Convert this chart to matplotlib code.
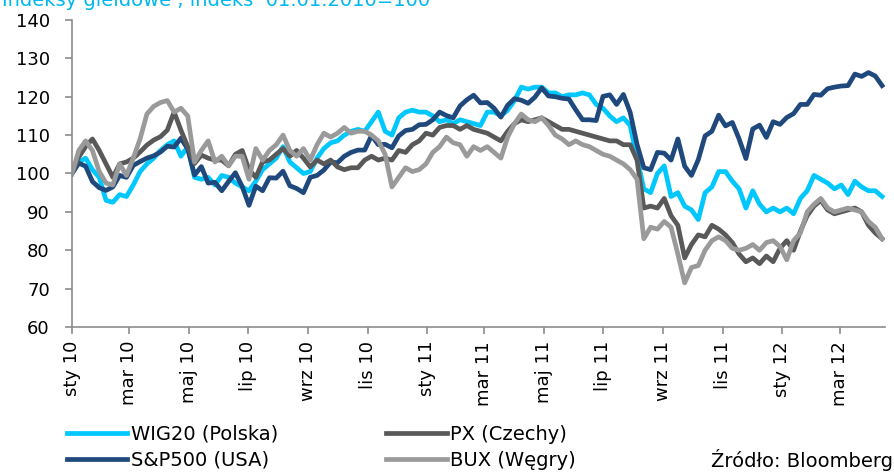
import pandas as pd
import matplotlib
matplotlib.use("Agg")
import matplotlib.pyplot as plt

# weekly (Friday) readings, index 01.01.2010 = 100
dates = pd.date_range("2010-01-01", periods=120, freq="7D")

wig20 = [100, 103, 104, 101, 99, 93, 92.5, 94.5, 94, 97,
         100.5, 102.5, 104, 106, 107.5, 108.5, 104.5, 107, 99, 98.5,
         99, 97, 99.5, 99, 97.5, 96.5, 95.5, 98, 101, 102.5,
         104, 107, 103, 101.5, 100, 100.5, 104, 106.5, 108, 108.5,
         110, 111, 111.5, 111, 113.5, 116, 111, 110, 114.5, 116,
         116.5, 116, 116, 115, 113.5, 114, 113, 114, 113.5, 113,
         112.5, 116, 116, 115, 116.5, 119, 122.5, 122, 122.5, 122.5,
         121, 121, 120, 120.5, 120.5, 121, 120.5, 118, 117, 115,
         113.5, 114.5, 112.5, 104, 96, 95, 100, 102, 94, 95,
         91.5, 90.5, 88, 95, 96.5, 100.5, 100.5, 98, 96, 91,
         95.5, 92, 90, 91, 90, 91, 89.5, 93.5, 95.5, 99.5,
         98.5, 97.5, 96, 97, 94.5, 98, 96.5, 95.5, 95.5, 94]

sp500 = [100.0, 102.7, 101.9, 97.9, 96.3, 95.6, 96.5, 99.5, 99.0, 102.1,
         103.1, 104.0, 104.6, 105.6, 107.1, 106.9, 109.2, 106.4, 99.6, 101.8,
         97.5, 97.7, 95.5, 97.9, 100.2, 96.6, 91.7, 96.7, 95.5, 98.9,
         98.8, 100.6, 96.8, 96.1, 95.0, 99.0, 99.5, 100.9, 103.0, 102.8,
         104.5, 105.5, 106.1, 106.1, 109.9, 107.5, 107.6, 106.7, 109.8, 111.2,
         111.5, 112.7, 112.8, 114.0, 116.0, 115.1, 114.5, 117.6, 119.2, 120.4,
         118.4, 118.5, 117.0, 114.7, 117.8, 119.5, 119.1, 118.3, 119.9, 122.3,
         120.2, 120.0, 119.6, 119.4, 116.6, 114.0, 114.0, 113.8, 120.1, 120.5,
         118.0, 120.6, 115.9, 107.6, 101.5, 101.0, 105.5, 105.3, 103.5, 109.0,
         101.9, 99.5, 103.6, 109.8, 111.0, 115.2, 112.4, 113.3, 109.0, 103.9,
         111.6, 112.6, 109.4, 113.5, 112.8, 114.6, 115.6, 118.0, 118.0, 120.6,
         120.4, 122.1, 122.5, 122.8, 122.9, 125.9, 125.3, 126.3, 125.4, 122.9]

px = [100, 104.3, 107, 109, 106, 102.5, 99, 102.5, 103, 104,
      105.6, 107.4, 108.7, 109.6, 111.3, 116, 111.3, 107, 102.6, 104.8,
      104, 103.5, 103.5, 102, 105, 106, 101, 99, 103, 103.5,
      105, 106.5, 104.5, 106, 104, 101.7, 103.5, 102.5, 103.5, 101.7,
      101, 101.5, 101.5, 103.5, 104.5, 103.5, 104, 103.5, 106, 105.5,
      107.5, 108.5, 110.5, 110, 112, 112.5, 112.5, 111.5, 112.5, 111.5,
      111, 110.5, 109.5, 108.5, 111, 113, 114, 113.5, 114, 114.5,
      113.5, 112.5, 111.5, 111.5, 111, 110.5, 110, 109.5, 109, 108.5,
      108.5, 107.5, 107.5, 103.5, 91, 91.5, 91, 93.5, 89, 86.5,
      78, 81.5, 84, 83.5, 86.5, 85.5, 84, 82, 79, 77,
      78, 76.5, 78.5, 77, 80.5, 82.5, 80, 85, 89, 91.5,
      93, 90.5, 89.5, 90, 90.5, 91, 90, 86.5, 84.5, 83]

bux = [100, 106, 108.5, 106, 100.5, 97.5, 97, 102.5, 99.5, 104,
       109, 115.5, 117.5, 118.5, 119, 116, 117, 115, 103, 106,
       108.5, 103, 104.5, 102, 104.5, 104.5, 98.5, 106.5, 103.5, 106,
       107.5, 110, 106, 104.5, 106.5, 103.5, 107.5, 110.5, 109.5, 110.5,
       112, 110.5, 111, 111, 110, 108.5, 105, 96.5, 99, 101.5,
       100.5, 101, 102.5, 105.5, 107, 109.5, 108, 107.5, 104.5, 107,
       106, 107, 105.5, 104, 109.5, 113, 115.5, 114, 113.5, 114.5,
       112.5, 110, 109, 107.5, 108.5, 107.5, 107, 106, 105, 104.5,
       103.5, 102.5, 101, 98.5, 83, 86, 85.5, 87.5, 86, 79,
       71.5, 75.5, 76, 80, 82.5, 83.5, 82.5, 80.5, 80, 80.5,
       81.5, 80, 82, 82.5, 81, 77.5, 82.5, 84.5, 90, 92,
       93.5, 91, 90, 90.5, 91, 90.5, 90, 87.5, 86, 83]

tick_dates = pd.to_datetime(["2010-01-01", "2010-03-01", "2010-05-01", "2010-07-01",
                             "2010-09-01", "2010-11-01", "2011-01-01", "2011-03-01",
                             "2011-05-01", "2011-07-01", "2011-09-01", "2011-11-01",
                             "2012-01-01", "2012-03-01"])
tick_labels = ["sty 10", "mar 10", "maj 10", "lip 10", "wrz 10", "lis 10", "sty 11",
               "mar 11", "maj 11", "lip 11", "wrz 11", "lis 11", "sty 12", "mar 12"]

W, H = 894, 474
fig = plt.figure(figsize=(W / 100, H / 100), dpi=100)
ax = fig.add_axes([72 / W, 1 - 327 / H, (885 - 72) / W, (327 - 20) / H])

lw = 3.4
l1, = ax.plot(dates, wig20, color="#00c8ff", lw=lw, solid_joinstyle="round")
l2, = ax.plot(dates, sp500, color="#1f497d", lw=lw, solid_joinstyle="round")
l3, = ax.plot(dates, px, color="#595959", lw=lw, solid_joinstyle="round")
l4, = ax.plot(dates, bux, color="#9a9a9a", lw=lw, solid_joinstyle="round")

ax.set_xlim(pd.Timestamp("2010-01-01"), pd.Timestamp("2012-04-16"))
ax.set_ylim(60, 140)
ax.set_yticks(range(60, 141, 10))
ax.set_xticks(tick_dates)
ax.set_xticklabels(tick_labels, rotation=90, ha="center", va="top")

for s in ["top", "right"]:
    ax.spines[s].set_visible(False)
for s in ["left", "bottom"]:
    ax.spines[s].set_color("#8c8c8c")
    ax.spines[s].set_linewidth(1.2)
ax.tick_params(direction="out", length=5, width=1.2, color="#8c8c8c", labelsize=13)
ax.tick_params(axis="y", pad=11)
ax.tick_params(axis="x", pad=5)

# title sits partly above the top edge, as in the source image
fig.text(0.002, 1 - 5.5 / H, "Indeksy giełdowe , indeks  01.01.2010=100",
         color="#00b8f0", fontsize=14, va="baseline")

fig.legend([l1, l2, l3, l4],
           ["WIG20 (Polska)", "S&P500 (USA)", "PX (Czechy)", "BUX (Węgry)"],
           loc="upper left", bbox_to_anchor=(67 / W, 1 - 425 / H), ncol=2,
           frameon=False, fontsize=14, handlelength=3.1, handletextpad=0.2,
           columnspacing=5.55, labelspacing=0.36, borderaxespad=0, borderpad=0)

fig.text(893 / W, 1 - 467 / H, "Źródło: Bloomberg", ha="right", va="baseline", fontsize=14)

plt.savefig("out.png", dpi=100)
plt.close()
